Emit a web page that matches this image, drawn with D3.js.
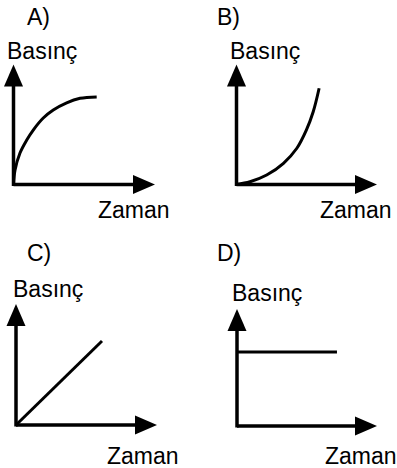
<!DOCTYPE html>
<html>
<head>
<meta charset="utf-8">
<script src="https://cdn.jsdelivr.net/npm/d3@7"></script>
<style>
  body { margin: 0; background: #fff; }
  text { font-family: "Liberation Sans", Arial, sans-serif; font-size: 23px; fill: #000; }
</style>
</head>
<body>
<svg width="397" height="468"></svg>
<script>
// option labels and axis titles
const labels = ["A)", "B)", "C)", "D)"];
const yTitle = "Basınç";
const xTitle = "Zaman";

// curves, in axis units (0..10)
const curveA = [[0, 0], [0.11, 1.21], [0.46, 2.63], [0.94, 3.71], [1.4, 4.54], [2.11, 5.54],
                [2.82, 6.21], [3.77, 6.81], [4.72, 7.18], [5.9, 7.3]];
const curveB = [[0, 0], [0.96, 0.23], [2.14, 0.79], [3.33, 1.77], [4.28, 3.02], [4.96, 4.55],
                [5.44, 6.06], [5.86, 8.02]];
const curveC = [[0, 0], [6.1, 7.0]];
const curveD = [[0, 6.17], [7.09, 6.17]];
const curves = [curveA, curveB, curveC, curveD];

// layout of each panel: origin, axis lengths, text spots
const panels = [
  { ox: 13.5, oy: 184.5, xl: 141.5, yl: 120, lab: [27, 25], yt: [7, 59], xt: [98, 218], smooth: true },
  { ox: 236.5, oy: 184.5, xl: 140.5, yl: 120, lab: [217, 25], yt: [230, 59], xt: [320, 218], smooth: true },
  { ox: 16, oy: 425, xl: 141, yl: 121, lab: [27, 261], yt: [13, 297], xt: [107, 464], smooth: false },
  { ox: 237, oy: 426, xl: 140, yl: 117, lab: [217, 261], yt: [232, 301], xt: [325, 464], smooth: false }
];

const svg = d3.select("svg");

const arrowLen = 22;
const arrowHalf = 9.5;

panels.forEach(function (p, i) {
  const g = svg.append("g");

  const x = d3.scaleLinear().domain([0, 10]).range([p.ox, p.ox + 141]);
  const y = d3.scaleLinear().domain([0, 10]).range([p.oy, p.oy - 120]);

  const xEnd = p.ox + p.xl;
  const yEnd = p.oy - p.yl;

  // axis lines
  g.append("line")
    .attr("x1", p.ox).attr("y1", p.oy)
    .attr("x2", xEnd - arrowLen + 2).attr("y2", p.oy)
    .attr("stroke", "#000").attr("stroke-width", 3.5);
  g.append("line")
    .attr("x1", p.ox).attr("y1", p.oy + 1.5)
    .attr("x2", p.ox).attr("y2", yEnd + arrowLen - 2)
    .attr("stroke", "#000").attr("stroke-width", 3.5);

  // arrow heads
  g.append("path")
    .attr("d", `M${xEnd},${p.oy} L${xEnd - arrowLen},${p.oy - arrowHalf} L${xEnd - arrowLen},${p.oy + arrowHalf} Z`)
    .attr("fill", "#000");
  g.append("path")
    .attr("d", `M${p.ox},${yEnd} L${p.ox - arrowHalf},${yEnd + arrowLen} L${p.ox + arrowHalf},${yEnd + arrowLen} Z`)
    .attr("fill", "#000");

  // the curve
  const line = d3.line()
    .x((d) => x(d[0]))
    .y((d) => y(d[1]))
    .curve(p.smooth ? d3.curveCatmullRom : d3.curveLinear);

  g.append("path")
    .datum(curves[i])
    .attr("d", line)
    .attr("fill", "none")
    .attr("stroke", "#000")
    .attr("stroke-width", 3);

  // texts
  g.append("text").attr("x", p.lab[0]).attr("y", p.lab[1]).text(labels[i]);
  g.append("text").attr("x", p.yt[0]).attr("y", p.yt[1]).text(yTitle);
  g.append("text").attr("x", p.xt[0]).attr("y", p.xt[1]).text(xTitle);
});
</script>
</body>
</html>
